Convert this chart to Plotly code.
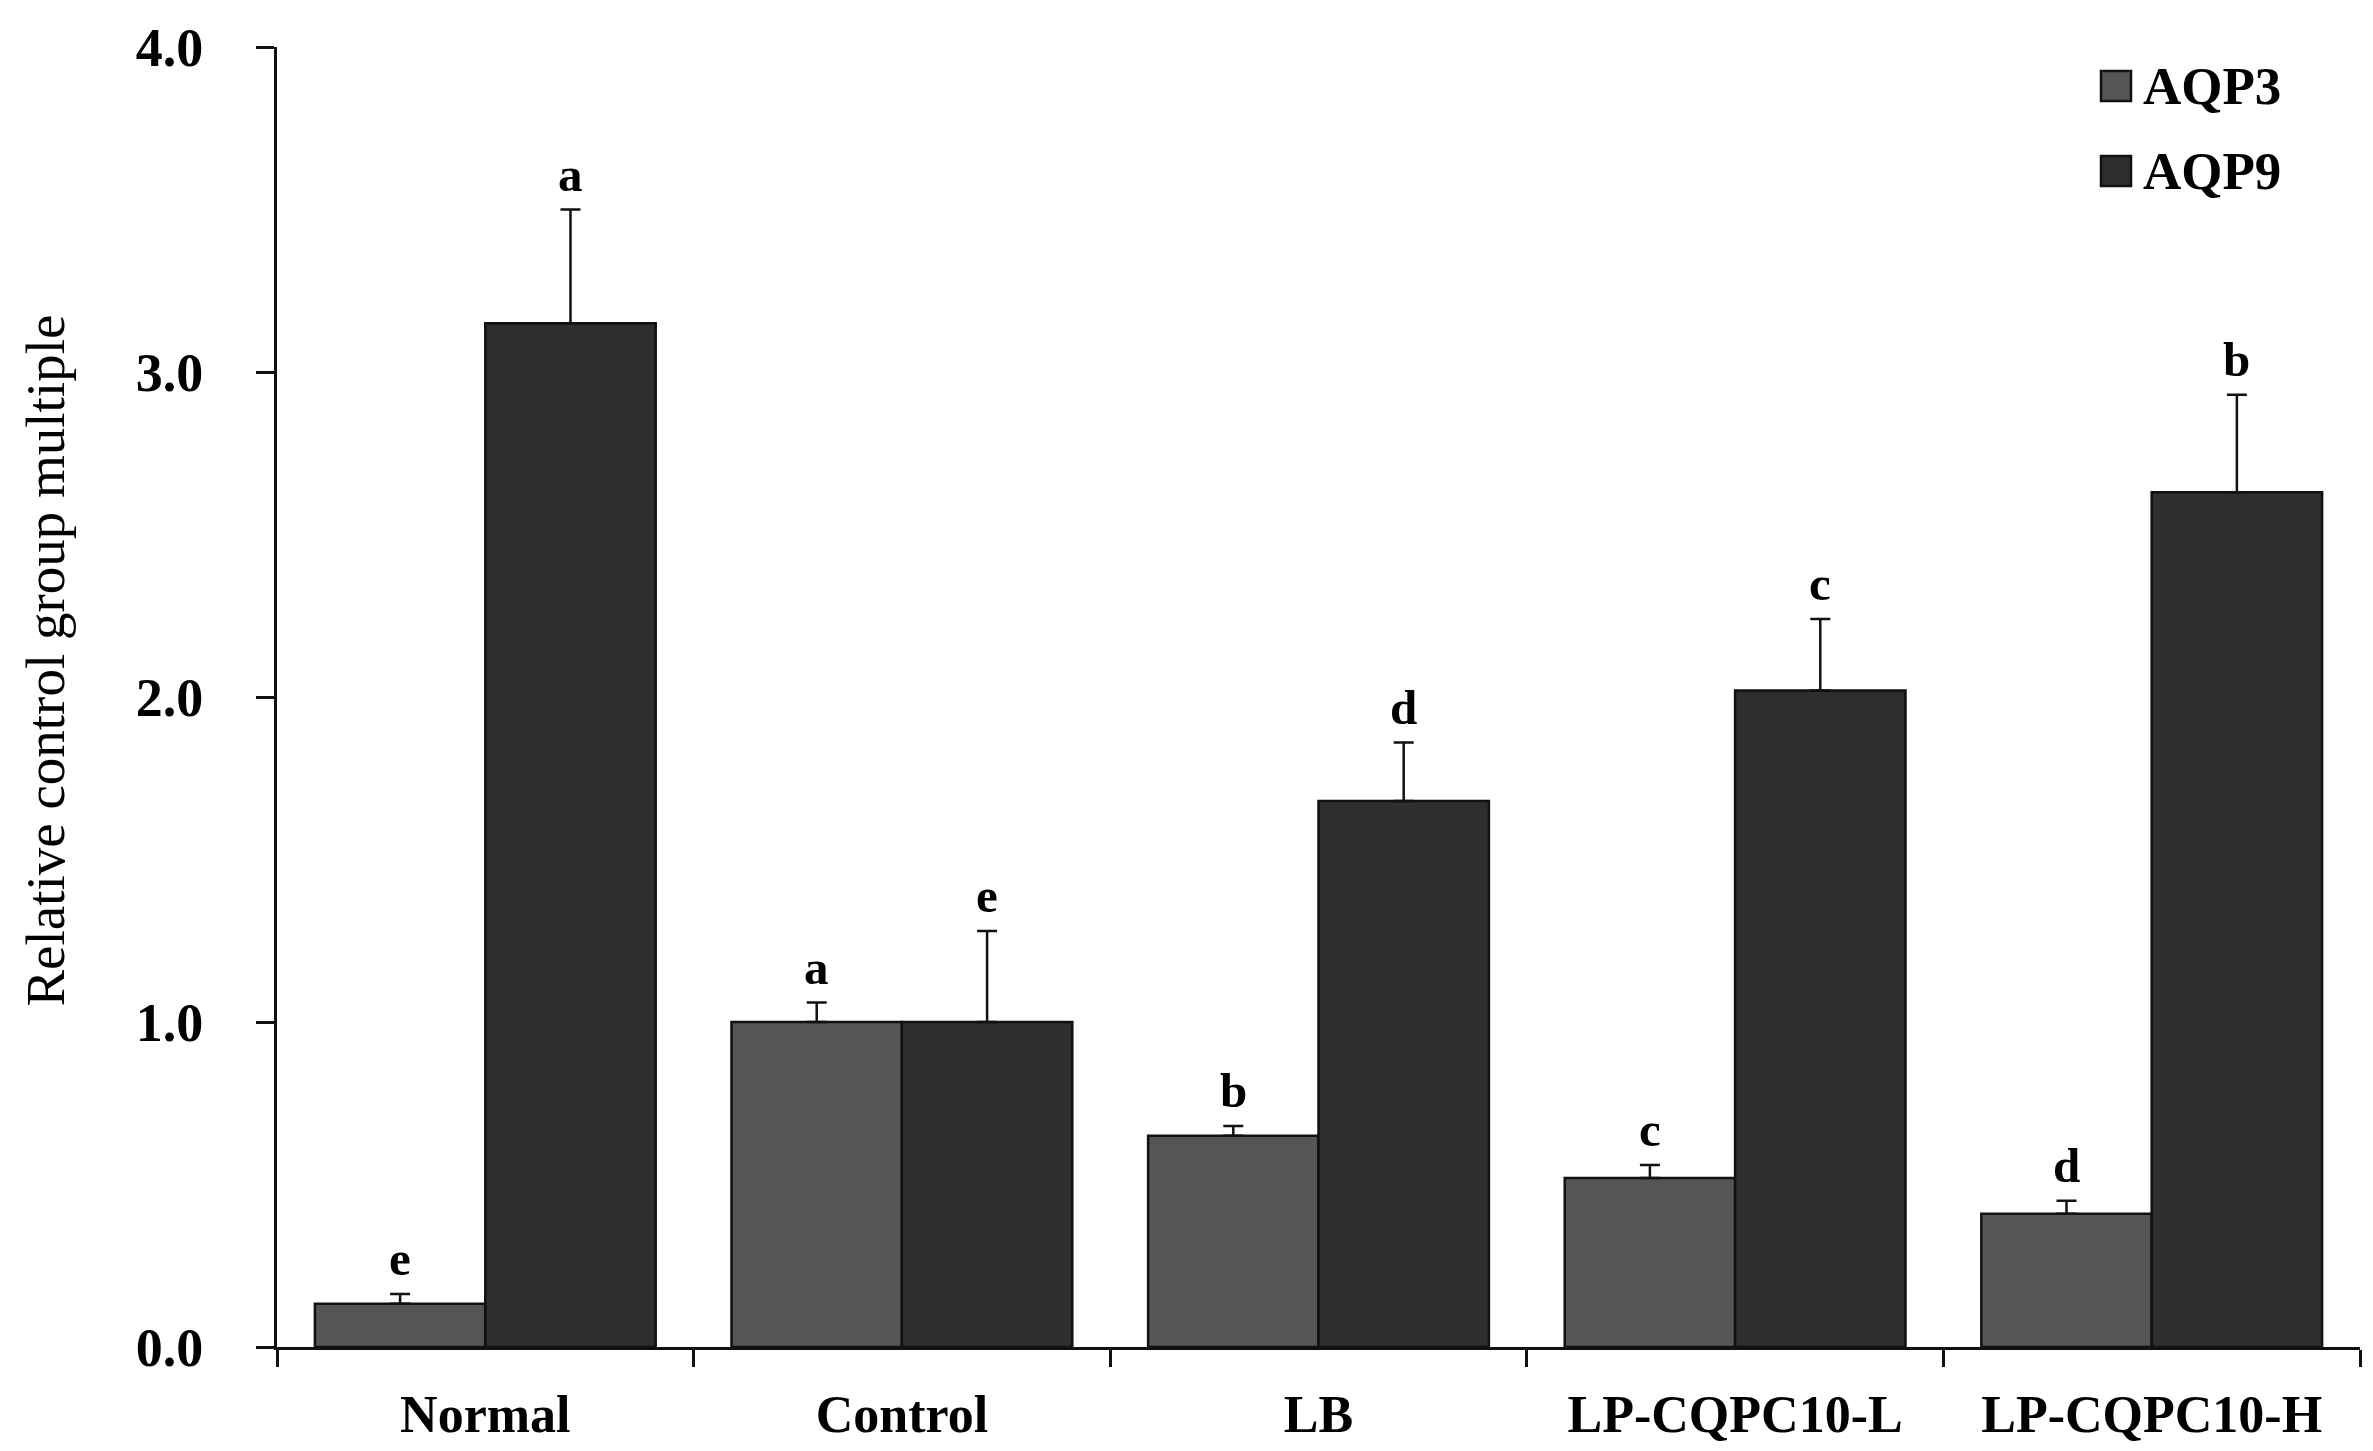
import plotly.graph_objects as go

# ---- data ----
categories = ["Normal", "Control", "LB", "LP-CQPC10-L", "LP-CQPC10-H"]
series_names = ["AQP3", "AQP9"]
aqp3_values = [0.133, 1.00, 0.65, 0.52, 0.41]
aqp3_errors = [0.03, 0.06, 0.03, 0.04, 0.04]
aqp9_values = [3.15, 1.00, 1.68, 2.02, 2.63]
aqp9_errors = [0.35, 0.28, 0.18, 0.22, 0.30]
aqp3_letters = ["e", "a", "b", "c", "d"]
aqp9_letters = ["a", "e", "d", "c", "b"]
y_tick_values = [0, 1, 2, 3, 4]
y_title = "Relative control group multiple"

# ---- style ----
W, H = 2373, 1451
ML, MR, MT, MB = 269, 21, 39, 112
FONT = "Liberation Serif"
colors = ["#555555", "#2e2e2e"]
BARGAP = 0.182

fig = go.Figure()
for name, vals, errs, col in [
    (series_names[0], aqp3_values, aqp3_errors, colors[0]),
    (series_names[1], aqp9_values, aqp9_errors, colors[1]),
]:
    fig.add_trace(go.Bar(
        x=categories, y=vals, name=name,
        marker=dict(color=col, line=dict(color="#111111", width=2.5)),
        error_y=dict(type="data", symmetric=False, array=errs,
                     arrayminus=[0] * len(errs), color="#111111",
                     thickness=2.5, width=10),
        showlegend=False,
    ))

# significance letters above each bar
plot_w = W - ML - MR
cat_w = plot_w / len(categories)
half_bar = cat_w * (1 - BARGAP) / 4
annotations = []
for letters, vals, errs, sgn in [
    (aqp3_letters, aqp3_values, aqp3_errors, -1),
    (aqp9_letters, aqp9_values, aqp9_errors, 1),
]:
    for c, l, v, e in zip(categories, letters, vals, errs):
        annotations.append(dict(
            x=c, y=v + e, xref="x", yref="y", text=l, showarrow=False,
            xshift=sgn * half_bar, yshift=6, yanchor="bottom",
            font=dict(family=FONT, size=49, color="black", weight="bold"),
        ))

# y-axis title
annotations.append(dict(
    x=-(ML - 38) / plot_w, y=0.528, xref="paper", yref="paper",
    text=y_title, textangle=-90, showarrow=False,
    xanchor="center", yanchor="middle",
    font=dict(family=FONT, size=55, color="black"),
))

# legend (manual, large squares)
plot_h = H - MT - MB
leg_left_px = 2093 - ML
leg_rows_px = [78, 163]
shapes = []
for name, col, ypx in zip(series_names, colors, leg_rows_px):
    x0 = leg_left_px / plot_w
    x1 = (leg_left_px + 30) / plot_w
    y0 = (H - MB - (ypx + 15)) / plot_h
    y1 = (H - MB - (ypx - 15)) / plot_h
    shapes.append(dict(type="rect", xref="paper", yref="paper",
                       x0=x0, x1=x1, y0=y0, y1=y1,
                       fillcolor=col, line=dict(color="#111111", width=2.5)))
    annotations.append(dict(
        x=(leg_left_px + 40) / plot_w, y=(H - MB - ypx) / plot_h,
        xref="paper", yref="paper", text=name, showarrow=False,
        xanchor="left", yanchor="middle",
        font=dict(family=FONT, size=53, color="black", weight="bold"),
    ))

fig.update_layout(
    width=W, height=H,
    margin=dict(l=ML, r=MR, t=MT, b=MB, autoexpand=False),
    paper_bgcolor="white", plot_bgcolor="white",
    barmode="group", bargap=BARGAP, bargroupgap=0,
    annotations=annotations, shapes=shapes,
    showlegend=False,
)
fig.update_xaxes(
    type="category", showline=True, linecolor="#111111", linewidth=3,
    ticks="outside", tickson="boundaries", ticklen=17, tickwidth=3,
    tickcolor="#111111", showgrid=False, zeroline=False,
    ticklabelstandoff=20,
    tickfont=dict(family=FONT, size=52, color="black", weight="bold"),
)
fig.update_yaxes(
    range=[0, 4], tickvals=y_tick_values, tickformat=".1f",
    showline=True, linecolor="#111111", linewidth=3,
    ticks="outside", ticklen=18, tickwidth=3, tickcolor="#111111",
    showgrid=False, zeroline=False, ticklabelstandoff=42,
    tickfont=dict(family=FONT, size=54, color="black", weight="bold"),
)

fig.write_html("out.html")
